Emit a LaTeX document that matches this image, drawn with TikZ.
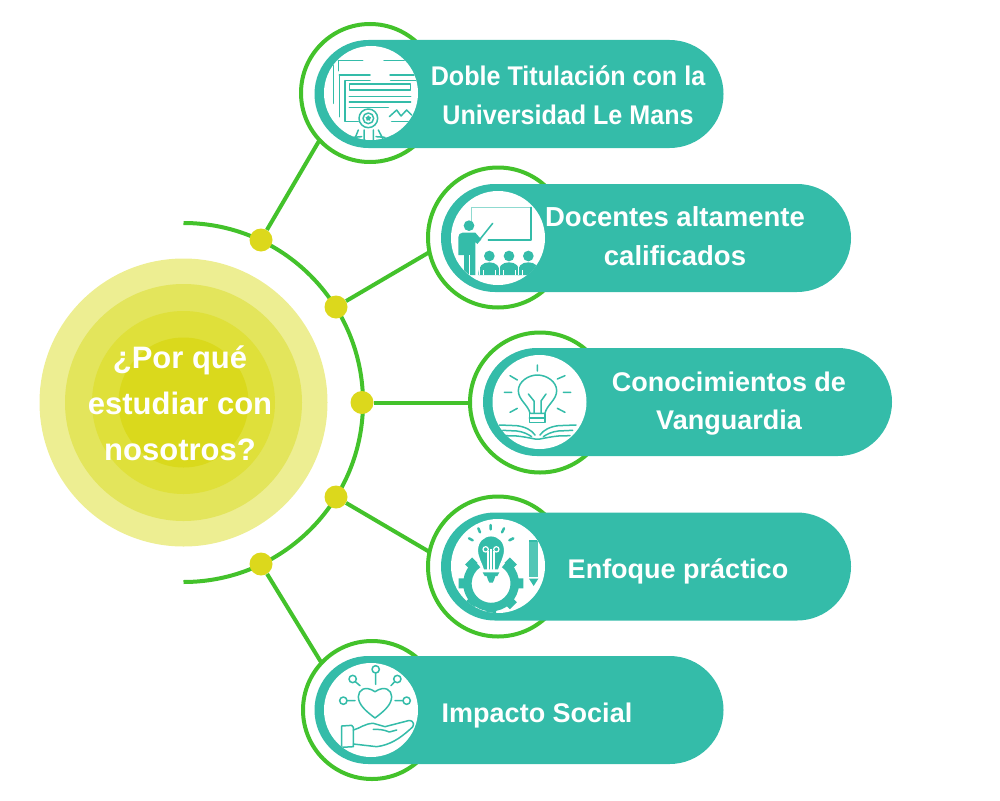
\documentclass[tikz,border=0pt]{standalone}
\usepackage{fontspec}
\setmainfont{Liberation Sans}
\newfontfamily\slimfont[FakeStretch=0.93]{Liberation Sans}
\usetikzlibrary{shapes.geometric}
\definecolor{tealpill}{HTML}{34BCA9}
\definecolor{ringgreen}{HTML}{43C22B}
\definecolor{dotyellow}{HTML}{DCD81C}
\definecolor{haloa}{HTML}{EDEE92}
\definecolor{halob}{HTML}{E3E55C}
\definecolor{haloc}{HTML}{DFE03A}
\definecolor{halod}{HTML}{DAD91C}
\tikzset{
  ring/.style = {circle, draw = ringgreen, line width = 4pt, fill = white, minimum size = 140pt, inner sep = 0pt, outer sep = 0pt},
  pill/.style = {rectangle, fill = tealpill, rounded corners = 53.9pt, minimum height = 108pt, inner sep = 0pt, outer sep = 0pt},
  face/.style = {circle, fill = white, minimum size = 94pt, inner sep = 0pt},
  dot/.style = {circle, fill = dotyellow, minimum size = 23pt, inner sep = 0pt},
  halo/.style = {circle, inner sep = 0pt},
  link/.style = {draw = ringgreen, line width = 4pt},
  label/.style = {text = white, font = \bfseries\fontsize{27}{39}\selectfont, align = center, inner sep = 0pt},
  icon/.style = {draw = tealpill, line width = 1.5pt, line cap = round, line join = round}
}
\begin{document}
\begin{tikzpicture}[x = 1pt, y = -1pt]
  \useasboundingbox (0,0) rectangle (1000,800);

  % middle
  \node [halo, fill = haloa, minimum size = 288pt] (haloA) at (183.5,402.5) {};
  \node [halo, fill = halob, minimum size = 237pt] (haloB) at (183.5,402.5) {};
  \node [halo, fill = haloc, minimum size = 183pt] (haloC) at (183.5,402.5) {};
  \node [halo, fill = halod, minimum size = 130pt] (haloD) at (183.5,402.5) {};
  \draw [link] (183.5,223) arc [start angle = -90, end angle = 90, radius = 179.5];

  \node [ring, minimum size = 138pt] (ringA) at (370,93) {};
  \node [ring] (ringB) at (498,237.5) {};
  \node [ring] (ringC) at (540,402.5) {};
  \node [ring] (ringD) at (498,566.5) {};
  \node [ring, minimum size = 138pt] (ringE) at (372,710) {};

  \node [dot] (dotA) at (261,240) {};
  \node [dot] (dotB) at (336,307) {};
  \node [dot] (dotC) at (362,402.5) {};
  \node [dot] (dotD) at (336,497) {};
  \node [dot] (dotE) at (261,564) {};

  \draw [link] (dotA) -- (ringA.223);
  \draw [link] (dotB) -- (ringB.192);
  \draw [link] (dotC) -- (ringC.west);
  \draw [link] (dotD) -- (ringD.168);
  \draw [link] (dotE) -- (ringE.137);

  \node [pill, minimum width = 409pt] (pillA) at (519,94) {};
  \node [pill, minimum width = 410pt] (pillB) at (646,238) {};
  \node [pill, minimum width = 409pt] (pillC) at (687.5,402) {};
  \node [pill, minimum width = 410pt] (pillD) at (646,566.5) {};
  \node [pill, minimum width = 409pt] (pillE) at (519,710) {};

  \node [face] (faceA) at (371,93) {};
  \node [face] (faceB) at (498,238) {};
  \node [face] (faceC) at (539.5,402) {};
  \node [face] (faceD) at (498,566) {};
  \node [face] (faceE) at (371,710) {};

  % certificate
  \begin{scope}[shift = {(290,10)}, scale = 1/3]
    \clip (243,250) circle (141);
    \draw [icon] (130,165) -- (130,280);
    \draw [icon] (145,152) -- (218,152) (282,152) -- (365,152) (145,152) -- (145,182);
    \draw [icon] (148,195) -- (148,320) (148,195) -- (240,195) (300,195) -- (380,195);
    \draw [icon] (165,212) -- (240,212) (302,212) -- (380,212) (165,212) -- (165,335) -- (205,335);
    \draw [icon] (178,222) rectangle (362,240);
    \draw [icon] (178,260) -- (362,260) (178,276) -- (362,276) (178,292) -- (295,292);
    \draw [icon] (298,320) -- (320,300) -- (333,318) -- (350,300) -- (365,315);
    \draw [icon] (305,335) -- (380,335);
    \draw [icon] (235,325) circle (28);
    \draw [icon] (235,325) circle (16);
    \node [star, star points = 5, fill = tealpill, minimum size = 6pt, inner sep = 0pt] (sealstar) at (235,325) {};
    \draw [icon] (205,360) -- (195,385) (265,360) -- (278,385) (222,360) -- (222,400) (250,360) -- (250,400);
    \draw [icon] (190,382) -- (215,380) (258,380) -- (285,382);
  \end{scope}

  % teacher
  \begin{scope}[shift = {(420,160)}, scale = 1/3]
    \clip (235,234) circle (141);
    \draw [icon, tealpill!55] (155,185) -- (155,142) -- (333,142);
    \draw [icon] (333,142) -- (333,240) -- (205,240);
    \draw [icon] (178,240) -- (218,190);
    \fill [tealpill] (147,197) circle (16);
    \fill [tealpill] (128,218) -- (166,218) .. controls (172,225) and (178,232) .. (184,238)
      -- (172,252) -- (166,246) -- (166,345) -- (132,345) -- (132,285) -- (115,285) -- (115,232) .. controls (115,224) and (120,218) .. (128,218) -- cycle;
    \draw [white, line width = 1pt] (148,285) -- (148,345);
    \foreach \cx in {208,267,325} {
      \fill [tealpill] (\cx,288) circle (16);
      \fill [tealpill] (\cx-33,345) .. controls (\cx-33,318) and (\cx-20,307) .. (\cx,307)
        .. controls (\cx+20,307) and (\cx+33,318) .. (\cx+33,345) -- cycle;
      \draw [white, line width = 0.6pt] (\cx-18,330) -- (\cx-18,345) (\cx+18,330) -- (\cx+18,345) (\cx-29.5,345) -- (\cx-29.5,320);
    }
  \end{scope}

  % bulb and book
  \begin{scope}[shift = {(460,325)}, scale = 1/3]
    \clip (238,232) circle (142);
    \draw [icon] (232,120) -- (232,138) (150,152) -- (172,165) (315,152) -- (292,162);
    \draw [icon] (133,202) -- (155,202) (310,202) -- (332,202) (150,262) -- (172,250) (315,262) -- (292,250);
    \draw [icon] (210,265) .. controls (205,240) and (175,225) .. (175,197)
      .. controls (175,170) and (205,150) .. (232,150)
      .. controls (260,150) and (290,170) .. (290,197)
      .. controls (290,225) and (260,240) .. (255,265) -- cycle;
    \draw [icon] (205,207) -- (222,228) -- (222,265) (258,207) -- (243,228) -- (243,265);
    \draw [icon] (208,265) rectangle (255,293) (208,279) -- (255,279);
    \draw [icon] (118,300) -- (170,302) .. controls (195,305) and (215,315) .. (225,330);
    \draw [icon] (348,300) -- (295,302) .. controls (270,305) and (250,315) .. (240,330);
    \draw [icon] (128,316) -- (170,318) .. controls (190,320) and (205,328) .. (215,335);
    \draw [icon] (338,316) -- (295,318) .. controls (275,320) and (260,328) .. (250,335);
    \draw [icon] (135,332) -- (170,333) .. controls (190,335) and (205,338) .. (225,342) -- (240,342)
      .. controls (260,338) and (275,335) .. (295,333) -- (330,332);
  \end{scope}

  % gear and bulb
  \begin{scope}[shift = {(420,490)}, scale = 1/3]
    \clip (233,228) circle (141);
    \draw [tealpill, line width = 8.5pt] (254,222) arc [start angle = -55, end angle = 235, radius = 71];
    \draw [tealpill, line width = 10pt] (285,280) -- (310,280) (264,331) -- (280,347) (213,352) -- (213,376)
      (162,331) -- (146,347) (141,280) -- (116,280) (264,229) -- (280,213) (162,229) -- (146,213);
    \draw [fill = tealpill, draw = white, line width = 1.5pt] (190,240) .. controls (185,220) and (172,205) .. (172,180)
      .. controls (172,155) and (190,137) .. (213,137)
      .. controls (236,137) and (254,155) .. (254,180)
      .. controls (254,205) and (241,220) .. (236,240) -- cycle;
    \fill [tealpill] (188,247) -- (238,247) -- (232,258) -- (226,258) -- (222,270) -- (218,278) -- (208,278) -- (204,270) -- (200,258) -- (194,258) -- cycle;
    \draw [white, line width = 1.2pt] (197,178) circle (8) (229,178) circle (8);
    \draw [white, line width = 1.2pt] (204,184) -- (204,240) (222,184) -- (222,240) (213,178) -- (213,240);
    \draw [icon, line width = 2.5pt] (175,115) -- (180,127) (212,105) -- (212,118) (252,115) -- (246,127) (147,145) -- (158,151) (280,145) -- (268,151);
    \fill [tealpill!85] (327,155) rectangle (355,262);
    \fill [tealpill] (327,150) rectangle (355,155);
    \fill [tealpill] (327,266) -- (355,266) -- (341,288) -- cycle;
  \end{scope}

  % hand and heart
  \begin{scope}[shift = {(290,630)}, scale = 1/3]
    \clip (243,240) circle (141);
    \draw [icon] (255,264) .. controls (230,245) and (205,225) .. (205,200)
      .. controls (205,180) and (225,165) .. (255,185)
      .. controls (285,165) and (305,180) .. (305,200)
      .. controls (305,225) and (280,245) .. (255,264) -- cycle;
    \draw [icon] (257,118) circle (11) (188,147) circle (11) (322,147) circle (11) (160,212) circle (11) (350,212) circle (11);
    \draw [icon] (257,129) -- (257,163) (196,155) -- (210,167) (314,155) -- (303,167) (171,212) -- (195,212) (339,212) -- (315,212);
    \draw [icon] (155,288) -- (185,286) -- (190,292) -- (190,350) -- (155,352) -- cycle;
    \draw [icon] (190,300) .. controls (210,295) and (225,280) .. (250,280)
      -- (285,290) -- (355,272) .. controls (375,270) and (375,290) .. (360,298)
      .. controls (330,325) and (300,345) .. (260,350) -- (190,342);
    \draw [icon] (250,298) .. controls (265,298) and (280,298) .. (298,306) -- (320,300);
  \end{scope}

  % texts
  \node [label, font = \bfseries\fontsize{31}{46}\selectfont] (question) at (180,403) {¿Por qué\\estudiar con\\nosotros?};
  \node [label, font = \slimfont\bfseries\fontsize{27}{39.5}\selectfont] (labelA) at (568,95) {Doble Titulación con la\\Universidad Le Mans};
  \node [label, font = \bfseries\fontsize{27.5}{39}\selectfont] (labelB) at (675,236.5) {Docentes altamente\\calificados};
  \node [label, font = \bfseries\fontsize{27}{38}\selectfont] (labelC) at (729,404) {Conocimientos de\\Vanguardia};
  \node [label] (labelD) at (678,571) {Enfoque práctico};
  \node [label] (labelE) at (537,716) {Impacto Social};
\end{tikzpicture}
\end{document}
